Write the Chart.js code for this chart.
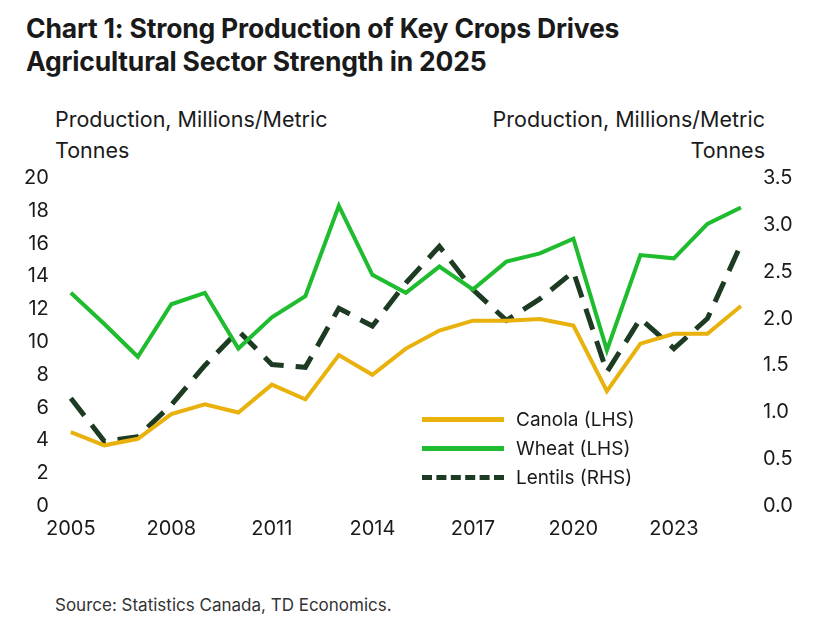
<!DOCTYPE html>
<html><head><meta charset="utf-8">
<script src="https://cdn.jsdelivr.net/npm/chart.js@4"></script>
<style>
body{margin:0;background:#fff;font-family:Inter,"Noto Sans",sans-serif;color:#1a1a1a;}
#wrap{position:relative;width:827px;height:617px;}
h1{position:absolute;left:26px;top:12px;margin:0;font-size:26.5px;line-height:33px;font-weight:700;letter-spacing:-0.2px;}
.at{position:absolute;top:104px;font-size:21.5px;line-height:31px;}
#lt{left:55px;}
#rt{right:62px;text-align:right;}
#cv{position:absolute;left:0;top:152px;}
#legend{position:absolute;left:422px;top:405px;font-size:19px;}
#legend div{display:flex;align-items:center;height:29px;}
#legend span.l{display:inline-block;width:82px;margin-right:12px;}
#src{position:absolute;left:55px;top:595px;font-size:17px;color:#333;}
</style></head><body>
<div id="wrap">
<h1>Chart 1: Strong Production of Key Crops Drives<br>Agricultural Sector Strength in 2025</h1>
<div class="at" id="lt">Production, Millions/Metric<br>Tonnes</div>
<div class="at" id="rt">Production, Millions/Metric<br>Tonnes</div>
<canvas id="cv" width="827" height="392"></canvas>
<div id="legend">
<div><span class="l" style="border-top:5px solid #e8b10c"></span>Canola (LHS)</div>
<div><span class="l" style="border-top:5px solid #1ebc2e"></span>Wheat (LHS)</div>
<div><span class="l" style="border-top:5px dashed #1d3b22"></span>Lentils (RHS)</div>
</div>
<div id="src">Source: Statistics Canada, TD Economics.</div>
</div>
<script>
var years = ['2005','2006','2007','2008','2009','2010','2011','2012','2013','2014','2015','2016','2017','2018','2019','2020','2021','2022','2023','2024','2025'];
var canola = [4.5, 3.7, 4.1, 5.6, 6.2, 5.7, 7.4, 6.5, 9.2, 8.0, 9.6, 10.7, 11.3, 11.3, 11.4, 11.0, 7.0, 9.9, 10.5, 10.5, 12.2];
var wheat = [13.0, 11.1, 9.1, 12.3, 13.0, 9.6, 11.5, 12.8, 18.3, 14.1, 13.0, 14.6, 13.2, 14.9, 15.4, 16.3, 9.5, 15.3, 15.1, 17.2, 18.2];
var lentils = [1.15, 0.69, 0.74, 1.08, 1.5, 1.87, 1.51, 1.48, 2.11, 1.92, 2.38, 2.77, 2.31, 1.98, 2.21, 2.5, 1.43, 2.0, 1.68, 2.0, 2.79];

var font = {family: 'Inter', size: 20};
var ctx = document.getElementById('cv').getContext('2d');
new Chart(ctx, {
  type: 'line',
  data: {
    labels: years,
    datasets: [
      {label: 'Canola (LHS)', data: canola, borderColor: '#e8b10c', borderWidth: 4, yAxisID: 'y'},
      {label: 'Wheat (LHS)', data: wheat, borderColor: '#1ebc2e', borderWidth: 4, yAxisID: 'y'},
      {label: 'Lentils (RHS)', data: lentils, borderColor: '#1d3b22', borderWidth: 5, borderDash: [22, 12], yAxisID: 'y1'}
    ]
  },
  options: {
    responsive: false,
    animation: false,
    elements: {point: {radius: 0}, line: {tension: 0}},
    layout: {padding: {left: 10, right: 20, top: 14, bottom: 0}},
    plugins: {legend: {display: false}, tooltip: {enabled: false}},
    scales: {
      x: {
        offset: false,
        grid: {display: false},
        border: {display: false},
        ticks: {color: '#1a1a1a', font: font, autoSkip: false, maxRotation: 0,
          callback: function(v, i) { return i % 3 === 0 ? years[i] : ''; }}
      },
      y: {
        position: 'left', min: 0, max: 20,
        grid: {display: false}, border: {display: false},
        ticks: {stepSize: 2, color: '#1a1a1a', font: font, padding: 14}
      },
      y1: {
        position: 'right', min: 0, max: 3.5,
        grid: {display: false}, border: {display: false},
        ticks: {stepSize: 0.5, color: '#1a1a1a', font: font, padding: 14,
          callback: function(v) { return v.toFixed(1); }}
      }
    }
  }
});
</script>
</body></html>
